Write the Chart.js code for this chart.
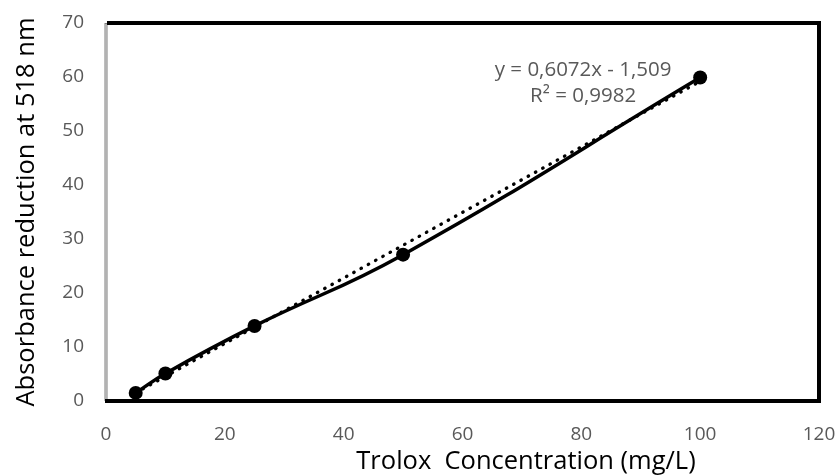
<!DOCTYPE html>
<html>
<head>
<meta charset="utf-8">
<script src="https://cdn.jsdelivr.net/npm/chart.js@4"></script>
<style>
  html, body { margin: 0; padding: 0; background: #ffffff; }
  #c { display: block; }
</style>
</head>
<body>
<canvas id="c" width="840" height="475"></canvas>
<script>
// ---- data ----
const concentrations = [5, 10, 25, 50, 100];
const absorbanceReduction = [1.5, 5.1, 13.9, 27.1, 59.9];
const trendX = [5, 100];
const trendY = [1.53, 59.21];
const trendLabelLines = ['y = 0,6072x - 1,509', 'R\u00B2 = 0,9982'];
const xTickMin = 0, xTickMax = 120, xTickStep = 20;
const yTickMin = 0, yTickMax = 70, yTickStep = 10;
const xTitle = 'Trolox  Concentration (mg/L)';
const yTitle = 'Absorbance reduction at 518 nm';

const FONT = "'Open Sans', 'DejaVu Sans', sans-serif";

const framePlugin = {
  id: 'frame',
  beforeDatasetsDraw(chart) {
    const { ctx, chartArea: a } = chart;
    ctx.save();
    // left edge: gray double line
    ctx.strokeStyle = '#7f7f7f';
    ctx.lineWidth = 3;
    ctx.beginPath();
    ctx.moveTo(a.left, a.top);
    ctx.lineTo(a.left, a.bottom);
    ctx.stroke();
    ctx.strokeStyle = '#e6e6e6';
    ctx.lineWidth = 1;
    ctx.beginPath();
    ctx.moveTo(a.left, a.top + 1);
    ctx.lineTo(a.left, a.bottom - 1);
    ctx.stroke();
    // top, right, bottom: thick black
    ctx.strokeStyle = '#000000';
    ctx.lineWidth = 4;
    ctx.lineJoin = 'miter';
    ctx.beginPath();
    ctx.moveTo(a.left + 1, a.top);
    ctx.lineTo(a.right, a.top);
    ctx.lineTo(a.right, a.bottom);
    ctx.lineTo(a.left - 1, a.bottom);
    ctx.stroke();
    ctx.restore();
  },
  afterDraw(chart) {
    const { ctx, scales } = chart;
    ctx.save();
    // trendline label
    ctx.fillStyle = '#595959';
    ctx.font = '20.5px ' + FONT;
    ctx.textAlign = 'center';
    ctx.textBaseline = 'middle';
    const cx = scales.x.getPixelForValue(80.3);
    const cy = scales.y.getPixelForValue(61.2);
    trendLabelLines.forEach((t, i) => ctx.fillText(t, cx, cy + i * 26));
    // x axis title
    ctx.fillStyle = '#000000';
    ctx.font = '25.5px ' + FONT;
    ctx.textAlign = 'center';
    ctx.textBaseline = 'alphabetic';
    ctx.fillText(xTitle, 526, 469);
    ctx.restore();
  }
};

new Chart(document.getElementById('c'), {
  type: 'scatter',
  data: {
    datasets: [
      {
        label: 'Linear trend',
        data: trendX.map((x, i) => ({ x: x, y: trendY[i] })),
        showLine: true,
        borderColor: '#000000',
        borderWidth: 3.3,
        borderDash: [0.5, 7.8],
        borderCapStyle: 'round',
        pointRadius: 0,
        pointHoverRadius: 0,
        clip: false
      },
      {
        label: 'Absorbance reduction',
        data: concentrations.map((x, i) => ({ x: x, y: absorbanceReduction[i] })),
        showLine: true,
        tension: 0.45,
        borderColor: '#000000',
        borderWidth: 3.5,
        backgroundColor: '#000000',
        pointRadius: 7,
        pointBorderWidth: 0,
        pointBackgroundColor: '#000000',
        clip: false
      }
    ]
  },
  options: {
    responsive: false,
    animation: false,
    devicePixelRatio: 1,
    layout: { padding: { top: 23, right: 21, bottom: 0, left: 0 } },
    plugins: {
      legend: { display: false },
      tooltip: { enabled: false }
    },
    scales: {
      x: {
        type: 'linear',
        min: xTickMin,
        max: xTickMax,
        grid: { display: false, drawTicks: false },
        border: { display: false },
        ticks: {
          stepSize: xTickStep,
          color: '#595959',
          font: { family: FONT, size: 19 },
          padding: 22,
          maxRotation: 0
        },
        afterFit(scale) {
          scale.height = 74;
          scale.paddingLeft = 0;
          scale.paddingRight = 0;
        }
      },
      y: {
        type: 'linear',
        min: yTickMin,
        max: yTickMax,
        grid: { display: false, drawTicks: false },
        border: { display: false },
        ticks: {
          stepSize: yTickStep,
          color: '#595959',
          font: { family: FONT, size: 19 },
          padding: 22
        },
        title: {
          display: true,
          text: yTitle,
          color: '#000000',
          font: { family: FONT, size: 25.5 },
          padding: { top: 11, bottom: 0 }
        },
        afterFit(scale) {
          scale.width = 106;
          scale.paddingTop = 0;
          scale.paddingBottom = 0;
        }
      }
    }
  },
  plugins: [framePlugin]
});
</script>
</body>
</html>
